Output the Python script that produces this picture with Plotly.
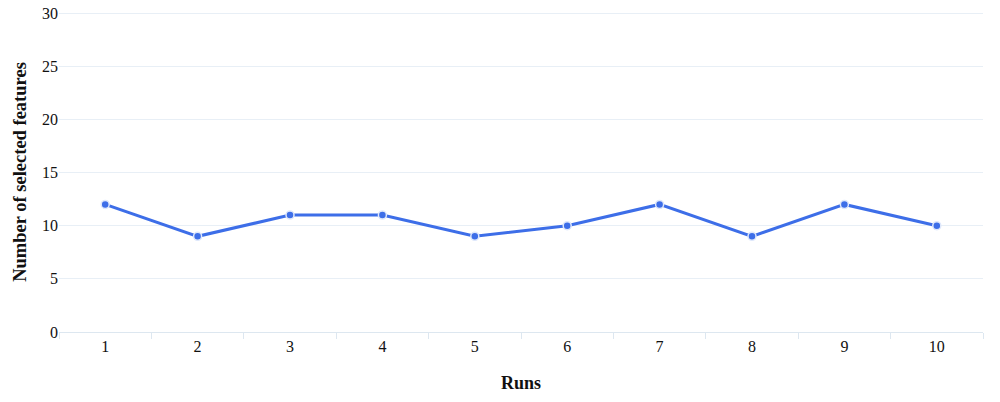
import plotly.graph_objects as go

runs = ["1", "2", "3", "4", "5", "6", "7", "8", "9", "10"]
selected_features = [12, 9, 11, 11, 9, 10, 12, 9, 12, 10]
y_ticks = [0, 5, 10, 15, 20, 25, 30]

fig = go.Figure()
fig.add_trace(go.Scatter(
    x=runs, y=selected_features, mode="lines+markers",
    line=dict(color="#3d6ee8", width=3),
    marker=dict(size=8, color="#3d6ee8", line=dict(color="#dfe8fb", width=1.5)),
    showlegend=False,
))

font_family = "Liberation Serif, DejaVu Serif, serif"
fig.update_layout(
    width=1000, height=402,
    margin=dict(l=59, r=17, t=12, b=70),
    paper_bgcolor="white", plot_bgcolor="white",
    font=dict(family=font_family, size=16, color="#111"),
    xaxis=dict(
        type="category", range=[-0.5, len(runs) - 0.5],
        tickson="boundaries", ticks="outside", ticklen=6,
        tickcolor="#dde7f0", showline=True, linecolor="#dde7f0", linewidth=1,
        showgrid=False, tickfont=dict(size=16, color="#111"), automargin=False,
        title=dict(text="<b>Runs</b>", font=dict(size=18, color="#111"), standoff=22),
    ),
    yaxis=dict(
        range=[0, 30.1], tickvals=y_ticks, showgrid=True, gridcolor="#e8eff6",
        zeroline=False, showline=False, ticks="", tickfont=dict(size=16, color="#111"),
        automargin=False,
        title=dict(text="<b>Number of selected features</b>", font=dict(size=18.5, color="#111"), standoff=10),
    ),
)

fig.write_html(
    "out.html",
    config={"displayModeBar": False},
    post_script="document.body.style.margin='0';document.body.style.overflow='hidden';",
)
